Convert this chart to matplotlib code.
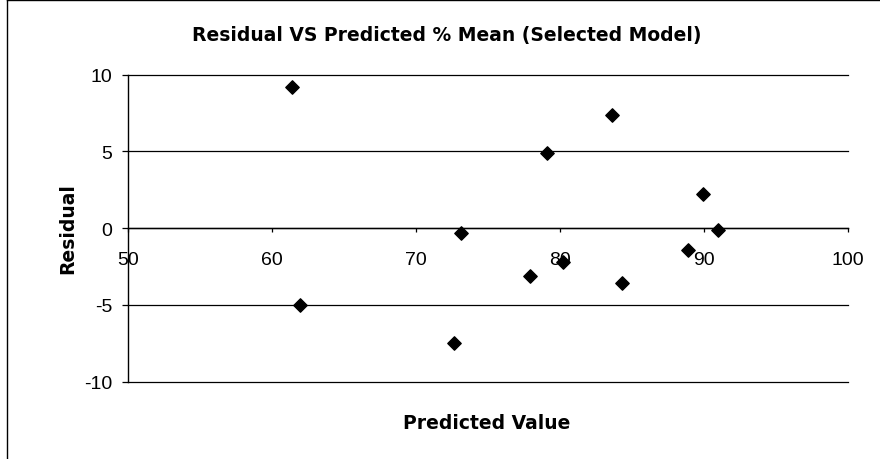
import matplotlib
matplotlib.use("Agg")
import matplotlib.pyplot as plt
from matplotlib.lines import Line2D

# Predicted value vs residual
predicted = [61.4, 61.9, 72.6, 73.1, 77.9, 79.1, 80.2, 83.6, 84.3, 88.9, 89.9, 91.0]
residual = [9.2, -5.0, -7.5, -0.3, -3.1, 4.9, -2.2, 7.4, -3.6, -1.4, 2.2, -0.1]

x_ticks = [50, 60, 70, 80, 90, 100]
y_ticks = [-10, -5, 0, 5, 10]

title = "Residual VS Predicted % Mean (Selected Model)"
x_label = "Predicted Value"
y_label = "Residual"

plt.rcParams["axes.unicode_minus"] = False

W, H = 880, 460
fig = plt.figure(figsize=(W / 100, H / 100), dpi=100)

# axes placed in pixel terms of the reference
left, right, top, bottom = 128.3, 848, 75.7, 382.7
ax = fig.add_axes([left / W, 1 - bottom / H, (right - left) / W, (bottom - top) / H])

ax.scatter(predicted, residual, marker="D", s=6.8 ** 2, color="black", zorder=5, clip_on=False)

ax.set_xlim(50, 100)
ax.set_ylim(-10, 10)
ax.set_xticks(x_ticks)
ax.set_yticks(y_ticks)

# horizontal gridlines only
ax.yaxis.grid(True, color="black", linewidth=0.9)
for gl in ax.get_ygridlines():
    gl.set_clip_on(False)
ax.set_axisbelow(True)

for side in ["top", "right"]:
    ax.spines[side].set_visible(False)
ax.spines["bottom"].set_position(("data", 0))
ax.spines["left"].set_linewidth(1.0)
ax.spines["bottom"].set_linewidth(1.0)

ax.tick_params(axis="y", direction="out", length=4.5, width=0.9, pad=7.2,
               labelsize=14, labelfontfamily="Liberation Sans")
ax.tick_params(axis="x", direction="out", length=3, width=0.9, pad=13.4,
               labelsize=14, labelfontfamily="Liberation Sans")

bold = dict(family="DejaVu Sans", weight="bold", fontsize=13.5)
fig.text(446.7 / W, 1 - 40.7 / H, title, ha="center", va="baseline", **bold)
fig.text(487 / W, 1 - 429.3 / H, x_label, ha="center", va="baseline", **bold)
fig.text(68 / W, 1 - 229 / H, y_label, ha="center", va="center", rotation=90, **bold)

# outer chart frame (left and top edges visible in the scan)
fig.add_artist(Line2D([7 / W, 7 / W], [0, 1 - 1 / H], transform=fig.transFigure, color="black", linewidth=1))
fig.add_artist(Line2D([7 / W, 1], [1 - 1 / H, 1 - 1 / H], transform=fig.transFigure, color="black", linewidth=1))

fig.savefig("out.png", dpi=100, facecolor="white")
